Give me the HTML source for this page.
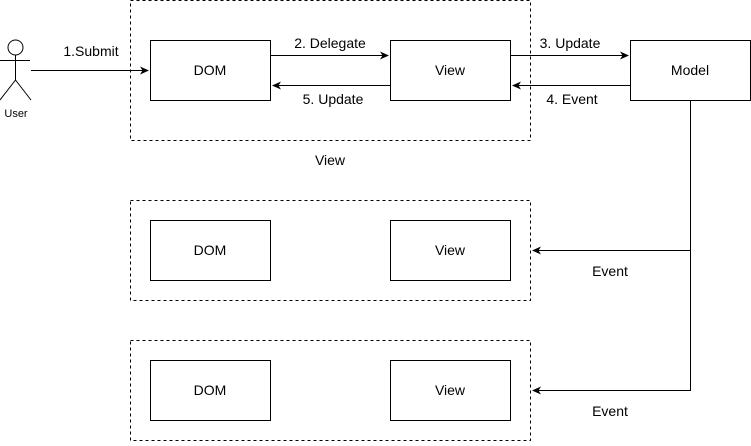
<!DOCTYPE html>
<html><head><style>body{margin:0;background:#fff}</style></head><body>
<svg width="751" height="441" xmlns="http://www.w3.org/2000/svg" font-family="Liberation Sans, Arial, sans-serif" font-size="14">
<defs><marker id="a" markerWidth="10" markerHeight="10" refX="8" refY="4" orient="auto" markerUnits="userSpaceOnUse"><path d="M0,0 L9,4 L0,8 L2.5,4 z" fill="#000"/></marker></defs>
<g fill="none" stroke="#000" stroke-dasharray="3,3">
<rect x="130.5" y="0.5" width="400" height="140"/>
<rect x="130.5" y="200.5" width="400" height="100"/>
<rect x="130.5" y="340.5" width="400" height="100"/>
</g>
<g fill="#fff" stroke="#000">
<rect x="150.5" y="40.5" width="120" height="60"/>
<rect x="390.5" y="40.5" width="120" height="60"/>
<rect x="630.5" y="40.5" width="120" height="60"/>
<rect x="150.5" y="220.5" width="120" height="60"/>
<rect x="390.5" y="220.5" width="120" height="60"/>
<rect x="150.5" y="360.5" width="120" height="60"/>
<rect x="390.5" y="360.5" width="120" height="60"/>
</g>
<g fill="none" stroke="#000">
<circle cx="15.5" cy="47.5" r="7.5"/>
<path d="M15.5 55v25M0 60.5h30M15.5 80L0 100M15.5 80L31 100"/>
<path d="M31 70.5H148" marker-end="url(#a)"/>
<path d="M271 55.5H388" marker-end="url(#a)"/>
<path d="M390 85.5H273" marker-end="url(#a)"/>
<path d="M511 55.5H628" marker-end="url(#a)"/>
<path d="M630 85.5H513" marker-end="url(#a)"/>
<path d="M690.5 101V390.5H533" marker-end="url(#a)"/>
<path d="M690.5 250.5H533" marker-end="url(#a)"/>
</g>
<g text-anchor="middle" fill="#000">
<text x="210" y="75">DOM</text><text x="450" y="75">View</text><text x="690" y="75">Model</text>
<text x="210" y="255">DOM</text><text x="450" y="255">View</text>
<text x="210" y="395">DOM</text><text x="450" y="395">View</text>
<text x="91" y="56">1.Submit</text>
<text x="330" y="48">2. Delegate</text>
<text x="333" y="104">5. Update</text>
<text x="570" y="48">3. Update</text>
<text x="572" y="104">4. Event</text>
<text x="330" y="165">View</text>
<text x="610" y="276">Event</text>
<text x="610" y="416">Event</text>
<text x="16" y="117" font-size="11">User</text>
</g>
</svg>
</body></html>
